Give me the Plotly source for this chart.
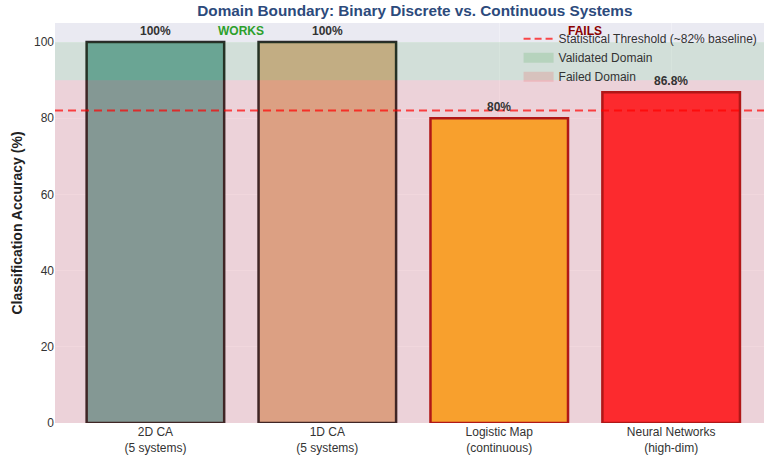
import plotly.graph_objects as go

categories = ["2D CA<br>(5 systems)", "1D CA<br>(5 systems)", "Logistic Map<br>(continuous)", "Neural Networks<br>(high-dim)"]
accuracy = [100, 100, 80, 86.8]
value_labels = ["100%", "100%", "80%", "86.8%"]
bar_colors = ["#77AAA5", "#D9B392", "#F8B333", "#FC2F34"]
edge_colors = ["#2A2A2A", "#2A2A2A", "#A81A1A", "#A81A1A"]
threshold = 82
validated_band = [90, 100]
failed_band = [0, 90]

FONT = "Liberation Sans, Arial, sans-serif"

fig = go.Figure()
fig.add_trace(go.Bar(
    x=categories, y=accuracy, width=0.8,
    marker=dict(color=bar_colors, line=dict(color=edge_colors, width=2.5)),
    showlegend=False, hoverinfo="skip",
))

# legend entries
fig.add_trace(go.Scatter(x=[None], y=[None], mode="lines", name="Statistical Threshold (~82% baseline)",
                         line=dict(color="rgba(255,0,0,0.7)", width=2, dash="7px,4px")))
fig.add_trace(go.Scatter(x=[None], y=[None], mode="lines", name="Validated Domain",
                         line=dict(color="rgba(0,128,0,0.13)", width=10)))
fig.add_trace(go.Scatter(x=[None], y=[None], mode="lines", name="Failed Domain",
                         line=dict(color="rgba(255,0,0,0.13)", width=10)))

# domain bands (drawn above bars, translucent)
fig.add_shape(type="rect", xref="paper", x0=0, x1=1, yref="y", y0=validated_band[0], y1=validated_band[1],
              fillcolor="green", opacity=0.1, line_width=0, layer="above")
fig.add_shape(type="rect", xref="paper", x0=0, x1=1, yref="y", y0=failed_band[0], y1=failed_band[1],
              fillcolor="red", opacity=0.1, line_width=0, layer="above")
# threshold line
fig.add_shape(type="line", xref="paper", x0=0, x1=1, yref="y", y0=threshold, y1=threshold,
              line=dict(color="rgba(255,0,0,0.7)", width=2, dash="8px,5px"), layer="above")

# value labels
for c, v, t in zip(categories, accuracy, value_labels):
    fig.add_annotation(x=c, y=v + 0.5, text="<b>%s</b>" % t, showarrow=False, yanchor="bottom",
                       font=dict(size=12, color="#333333", family=FONT))

fig.add_annotation(x=0.5, y=103.0, text="<b>WORKS</b>", showarrow=False, yanchor="middle",
                   font=dict(size=12, color="#2CA02C", family=FONT))
fig.add_annotation(x=2.5, y=103.0, text="<b>FAILS</b>", showarrow=False, yanchor="middle",
                   font=dict(size=12, color="#8B0000", family=FONT))

fig.update_layout(
    width=764, height=458,
    margin=dict(l=55, r=0, t=23, b=35),
    paper_bgcolor="white", plot_bgcolor="#EAEAF2",
    font=dict(family=FONT, size=12, color="#333333"),
    title=dict(text="<b>Domain Boundary: Binary Discrete vs. Continuous Systems</b>", x=0.543, xanchor="center",
               y=0.976, yanchor="middle", font=dict(size=15.3, color="#2C4A7C", family=FONT)),
    legend=dict(x=0.998, y=0.997, xanchor="right", yanchor="top", bgcolor="rgba(0,0,0,0)",
                font=dict(size=12, color="#333333"), tracegroupgap=0, itemwidth=30),
    bargap=0.2,
)
fig.update_xaxes(type="category", range=[-0.584, 3.54], showgrid=True, gridcolor="rgba(255,255,255,0.3)",
                 gridwidth=1, ticks="", zeroline=False, showline=False, tickfont=dict(size=12, color="#333333"))
fig.update_yaxes(range=[0, 105], tickvals=[0, 20, 40, 60, 80, 100], showgrid=True,
                 gridcolor="rgba(255,255,255,0.3)", gridwidth=1, zeroline=False, showline=False,
                 tickfont=dict(size=12, color="#333333"),
                 title=dict(text="<b>Classification Accuracy (%)</b>", font=dict(size=14, color="#222222"), standoff=8))

fig.write_html("out.html", config={"displayModeBar": False},
               post_script="document.body.style.margin='0';document.body.style.overflow='hidden';")
